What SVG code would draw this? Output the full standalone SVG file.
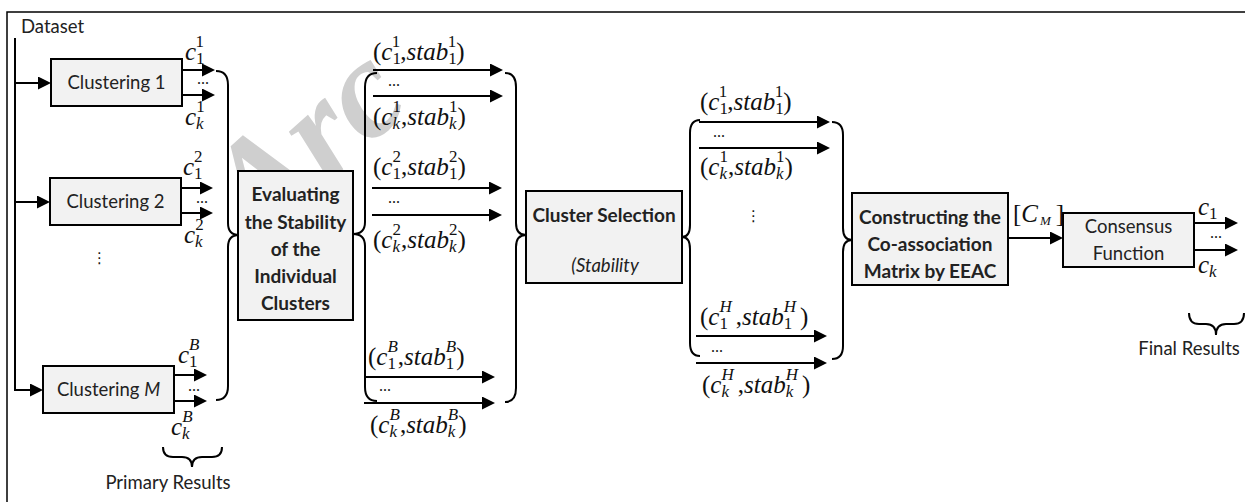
<svg xmlns="http://www.w3.org/2000/svg" width="1245" height="502" viewBox="0 0 1245 502">
<style>
.box{fill:#f2f2f2;stroke:#000;stroke-width:2}
.ln{fill:none;stroke:#000;stroke-width:2}
.br{fill:none;stroke:#000;stroke-width:2}
.t{font-family:Lato,"Open Sans",sans-serif;font-size:18.5px;fill:#222}
.b{font-weight:bold;font-size:19px}
.c{text-anchor:middle}
.m{font-family:"Liberation Serif","Times New Roman",serif;font-size:25px;fill:#111}
.i{font-style:italic}
.s{font-size:17px}
.d{font-family:"Liberation Serif",serif;font-size:16px;fill:#111}
.v{font-family:"DejaVu Sans",sans-serif;font-size:15px;fill:#111}
.wm{font-family:"Liberation Serif",serif;font-weight:bold;font-style:italic;font-size:140px;fill:#cfcfcf}
</style>
<defs>
<marker id="ah" markerUnits="userSpaceOnUse" markerWidth="14" markerHeight="14" refX="10" refY="6.5" orient="auto"><path d="M0,0 L13,6.5 L0,13 z" fill="#000"/></marker>
</defs>
<rect x="0" y="0" width="1245" height="502" fill="#fff"/>
<text class="wm" transform="translate(258,246) rotate(-42)">Arc</text>
<rect x="7" y="12" width="1260" height="500" fill="none" stroke="#000" stroke-width="1.5"/>

<g id="connectors">
<path class="ln" d="M15,38 V390 H40" marker-end="url(#ah)"/>
<path class="ln" d="M15,83 H48" marker-end="url(#ah)"/>
<path class="ln" d="M15,202 H47" marker-end="url(#ah)"/>
<path class="ln" d="M182,70 H212" marker-end="url(#ah)"/>
<path class="ln" d="M182,95 H212" marker-end="url(#ah)"/>
<path class="ln" d="M181,188 H210" marker-end="url(#ah)"/>
<path class="ln" d="M181,213 H210" marker-end="url(#ah)"/>
<path class="ln" d="M174,375 H204" marker-end="url(#ah)"/>
<path class="ln" d="M174,401 H204" marker-end="url(#ah)"/>
<path class="ln" d="M373,70 H500" marker-end="url(#ah)"/>
<path class="ln" d="M373,96 H500" marker-end="url(#ah)"/>
<path class="ln" d="M372,188 H499" marker-end="url(#ah)"/>
<path class="ln" d="M372,215 H499" marker-end="url(#ah)"/>
<path class="ln" d="M364,377 H492" marker-end="url(#ah)"/>
<path class="ln" d="M364,403 H492" marker-end="url(#ah)"/>
<path class="ln" d="M699,122 H827" marker-end="url(#ah)"/>
<path class="ln" d="M699,148 H827" marker-end="url(#ah)"/>
<path class="ln" d="M696,336 H824" marker-end="url(#ah)"/>
<path class="ln" d="M696,363 H824" marker-end="url(#ah)"/>
<path class="ln" d="M1008,238 H1060" marker-end="url(#ah)"/>
<path class="ln" d="M1194,223 H1235" marker-end="url(#ah)"/>
<path class="ln" d="M1194,250 H1235" marker-end="url(#ah)"/>
</g>

<g id="braces">
<path class="br" d="M216,71 Q228,71 228,85 V223 Q228,235 239,235 Q228,235 228,247 V386 Q228,400 216,400"/>
<path class="br" d="M377,73 Q365,73 365,87 V222 Q365,234 353,234 Q365,234 365,246 V387 Q365,401 377,401"/>
<path class="br" d="M505,73 Q516,73 516,87 V223 Q516,235 526,235 Q516,235 516,247 V388 Q516,402 505,402"/>
<path class="br" d="M700,120 Q690,120 690,133 V225 Q690,237 682,237 Q690,237 690,249 V343 Q690,356 700,356"/>
<path class="br" d="M832,122 Q843,122 843,135 V228 Q843,240 852,240 Q843,240 843,252 V346 Q843,359 832,359"/>
<path class="br" d="M163,447 Q163,457 173,457 H182 Q192,457 192,467 Q192,457 202,457 H212 Q222,457 222,447"/>
<path class="br" d="M1189,313 Q1189,324 1199,324 H1206 Q1216,324 1216,335 Q1216,324 1226,324 H1234 Q1244,324 1244,313"/>
</g>

<g id="dataset"><text class="t" x="21" y="33">Dataset</text></g>

<g id="clustering1">
<rect class="box" x="51" y="59" width="131" height="47"/>
<text class="t c" x="116.5" y="89">Clustering 1</text>
</g>
<g id="clustering2">
<rect class="box" x="50" y="178" width="131" height="47"/>
<text class="t c" x="115.5" y="208">Clustering 2</text>
</g>
<g id="clusteringM">
<rect class="box" x="43" y="366" width="131" height="47"/>
<text class="t c" x="108.5" y="396">Clustering <tspan class="i">M</tspan></text>
</g>
<g id="evaluating">
<rect class="box" x="238" y="171" width="115" height="149"/>
<text class="t b c" x="295.5" y="201">Evaluating</text>
<text class="t b c" x="295.5" y="228.5">the Stability</text>
<text class="t b c" x="295.5" y="256">of the</text>
<text class="t b c" x="295.5" y="283">Individual</text>
<text class="t b c" x="295.5" y="310">Clusters</text>
</g>
<g id="selection">
<rect class="box" x="526" y="191" width="156" height="92"/>
<text class="t b c" x="604" y="222">Cluster Selection</text>
<text class="t i c" x="605" y="272">(Stability</text>
</g>
<g id="coassociation">
<rect class="box" x="852" y="193" width="156" height="92"/>
<text class="t b c" x="930" y="224">Constructing the</text>
<text class="t b c" x="930" y="251">Co-association</text>
<text class="t b c" x="930" y="278">Matrix by EEAC</text>
</g>
<g id="consensus">
<rect class="box" x="1063" y="213" width="131" height="54"/>
<text class="t c" x="1128.5" y="233">Consensus</text>
<text class="t c" x="1128.5" y="260">Function</text>
</g>

<g id="labels">
<text class="m" x="185" y="60"><tspan class="i">c</tspan><tspan class="s" dy="4">1</tspan><tspan class="s" dx="-8.5" dy="-17">1</tspan></text>
<text class="m" x="185" y="125"><tspan class="i">c</tspan><tspan class="s i" dy="4">k</tspan><tspan class="s" dx="-7.5" dy="-17">1</tspan></text>
<text class="m" x="183" y="175"><tspan class="i">c</tspan><tspan class="s" dy="4">1</tspan><tspan class="s" dx="-8.5" dy="-17">2</tspan></text>
<text class="m" x="184" y="243"><tspan class="i">c</tspan><tspan class="s i" dy="4">k</tspan><tspan class="s" dx="-7.5" dy="-17">2</tspan></text>
<text class="m" x="178" y="363"><tspan class="i">c</tspan><tspan class="s" dy="4">1</tspan><tspan class="s i" dx="-8.5" dy="-17">B</tspan></text>
<text class="m" x="171" y="435"><tspan class="i">c</tspan><tspan class="s i" dy="4">k</tspan><tspan class="s i" dx="-7.5" dy="-17">B</tspan></text>

<text class="m" x="373" y="60">(<tspan class="i">c</tspan><tspan class="s" dy="4">1</tspan><tspan class="s" dx="-8.5" dy="-17">1</tspan><tspan dy="13">,</tspan><tspan class="i">stab</tspan><tspan class="s" dy="4">1</tspan><tspan class="s" dx="-8.5" dy="-17">1</tspan><tspan dy="13">)</tspan></text>
<text class="m" x="373" y="125">(<tspan class="i">c</tspan><tspan class="s i" dy="4">k</tspan><tspan class="s" dx="-7.5" dy="-17">1</tspan><tspan dy="13">,</tspan><tspan class="i">stab</tspan><tspan class="s i" dy="4">k</tspan><tspan class="s" dx="-7.5" dy="-17">1</tspan><tspan dy="13">)</tspan></text>
<text class="m" x="373" y="175">(<tspan class="i">c</tspan><tspan class="s" dy="4">1</tspan><tspan class="s" dx="-8.5" dy="-17">2</tspan><tspan dy="13">,</tspan><tspan class="i">stab</tspan><tspan class="s" dy="4">1</tspan><tspan class="s" dx="-8.5" dy="-17">2</tspan><tspan dy="13">)</tspan></text>
<text class="m" x="373" y="248">(<tspan class="i">c</tspan><tspan class="s i" dy="4">k</tspan><tspan class="s" dx="-7.5" dy="-17">2</tspan><tspan dy="13">,</tspan><tspan class="i">stab</tspan><tspan class="s i" dy="4">k</tspan><tspan class="s" dx="-7.5" dy="-17">2</tspan><tspan dy="13">)</tspan></text>
<text class="m" x="368" y="365">(<tspan class="i">c</tspan><tspan class="s" dy="4">1</tspan><tspan class="s i" dx="-8.5" dy="-17">B</tspan><tspan dy="13">,</tspan><tspan class="i">stab</tspan><tspan class="s" dy="4">1</tspan><tspan class="s i" dx="-8.5" dy="-17">B</tspan><tspan dy="13">)</tspan></text>
<text class="m" x="370" y="433">(<tspan class="i">c</tspan><tspan class="s i" dy="4">k</tspan><tspan class="s i" dx="-7.5" dy="-17">B</tspan><tspan dy="13">,</tspan><tspan class="i">stab</tspan><tspan class="s i" dy="4">k</tspan><tspan class="s i" dx="-7.5" dy="-17">B</tspan><tspan dy="13">)</tspan></text>

<text class="m" x="700" y="110">(<tspan class="i">c</tspan><tspan class="s" dy="4">1</tspan><tspan class="s" dx="-8.5" dy="-17">1</tspan><tspan dy="13">,</tspan><tspan class="i">stab</tspan><tspan class="s" dy="4">1</tspan><tspan class="s" dx="-8.5" dy="-17">1</tspan><tspan dy="13">)</tspan></text>
<text class="m" x="700" y="175">(<tspan class="i">c</tspan><tspan class="s i" dy="4">k</tspan><tspan class="s" dx="-7.5" dy="-17">1</tspan><tspan dy="13">,</tspan><tspan class="i">stab</tspan><tspan class="s i" dy="4">k</tspan><tspan class="s" dx="-7.5" dy="-17">1</tspan><tspan dy="13">)</tspan></text>
<text class="m" x="700" y="325">(<tspan class="i">c</tspan><tspan class="s" dy="4">1</tspan><tspan class="s i" dx="-8.5" dy="-17">H</tspan><tspan dx="4" dy="13">,</tspan><tspan class="i">stab</tspan><tspan class="s" dy="4">1</tspan><tspan class="s i" dx="-8.5" dy="-17">H</tspan><tspan dx="4" dy="13">)</tspan></text>
<text class="m" x="702" y="393">(<tspan class="i">c</tspan><tspan class="s i" dy="4">k</tspan><tspan class="s i" dx="-7.5" dy="-17">H</tspan><tspan dx="4" dy="13">,</tspan><tspan class="i">stab</tspan><tspan class="s i" dy="4">k</tspan><tspan class="s i" dx="-7.5" dy="-17">H</tspan><tspan dx="4" dy="13">)</tspan></text>

<text class="m" x="1013" y="222">[<tspan class="i">C</tspan><tspan class="i" font-size="13" dx="2" dy="3">M</tspan><tspan dx="5" dy="-3">]</tspan></text>
<text class="m" x="1198" y="215"><tspan class="i">c</tspan><tspan class="s" dy="4">1</tspan></text>
<text class="m" x="1198" y="273"><tspan class="i">c</tspan><tspan class="s i" dy="4">k</tspan></text>

<text class="d" x="197" y="84">...</text>
<text class="d" x="196" y="203">...</text>
<text class="d" x="188" y="391">...</text>
<text class="d" x="388" y="86">...</text>
<text class="d" x="388" y="203">...</text>
<text class="d" x="379" y="391">...</text>
<text class="d" x="713" y="137">...</text>
<text class="d" x="711" y="352">...</text>
<text class="d" x="1210" y="238">...</text>
<text class="v" x="92" y="263">⋮</text>
<text class="v" x="746" y="221">⋮</text>

<text class="t c" x="168" y="489">Primary Results</text>
<text class="t c" x="1189" y="355">Final Results</text>
</g>
</svg>
